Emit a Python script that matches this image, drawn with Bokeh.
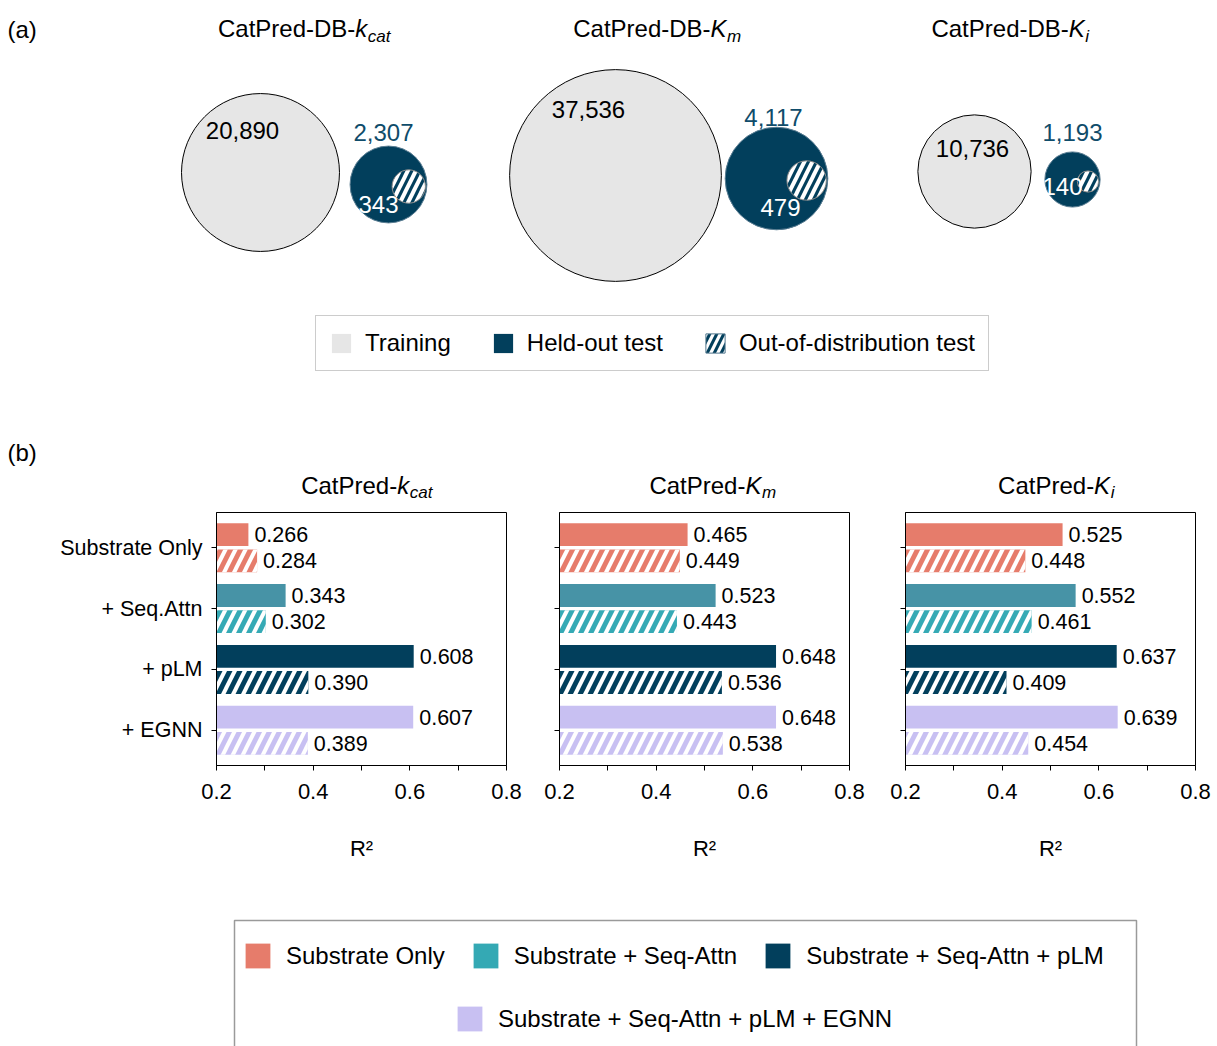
import math
from bokeh.plotting import figure
from bokeh.layouts import column, row
from bokeh.models import ColumnDataSource, Range1d, FixedTicker, Legend, LegendItem
from bokeh.core.properties import value
from bokeh.embed import file_html
from bokeh.resources import INLINE

# ---------------- data ----------------
db_names = ["kcat", "Km", "Ki"]
train_counts = [20890, 37536, 10736]
heldout_counts = [2307, 4117, 1193]
ood_counts = [343, 479, 140]

models = ["Substrate Only", "+ Seq.Attn", "+ pLM", "+ EGNN"]
model_legend = ["Substrate Only", "Substrate + Seq-Attn",
                "Substrate + Seq-Attn + pLM", "Substrate + Seq-Attn + pLM + EGNN"]
kcat_heldout = [0.266, 0.343, 0.608, 0.607]
kcat_ood = [0.284, 0.302, 0.390, 0.389]
km_heldout = [0.465, 0.523, 0.648, 0.648]
km_ood = [0.449, 0.443, 0.536, 0.538]
ki_heldout = [0.525, 0.552, 0.637, 0.639]
ki_ood = [0.448, 0.461, 0.409, 0.454]
x_major_ticks = [0.2, 0.4, 0.6, 0.8]
x_minor_ticks = [0.3, 0.5, 0.7]

# ---------------- styles ----------------
FONT = "Liberation Sans"
TRAIN_FILL = "#E6E6E6"
NAVY = "#023F5C"
HELD_LABEL = "#0F4C6A"
solid_colors = ["#E67C6B", "#4793A6", "#023F5C", "#C8C0F2"]
hatch_colors = ["#E67C6B", "#35AAB5", "#023F5C", "#C8C0F2"]
legend_colors = ["#E67C6B", "#34A9B4", "#023F5C", "#C8C0F2"]
HATCH = dict(hatch_pattern="/", hatch_color="white", hatch_alpha=1.0)

# Arial/Liberation Sans advance widths (per 1000 em) for composing titles
ADV = {'C': 722, 'a': 556, 't': 278, 'P': 667, 'r': 333, 'e': 556, 'd': 556, '-': 333,
       'D': 722, 'B': 667, 'k': 500, 'K': 667, 'm': 833, 'i': 222, 'c': 500}


def tw(s, size):
    return sum(ADV.get(ch, 556) for ch in s) * size / 1000.0


def mid(baseline, size):
    return baseline - 0.3465 * size


def draw_title(p, cx, base, main, sym, sub, f=24, fs=17, drop=5):
    w0, w1, w2 = tw(main, f), tw(sym, f), tw(sub, fs)
    x0 = cx - (w0 + w1 + w2) / 2.0
    common = dict(text_font=value(FONT), text_baseline="middle", text_align="left",
                  text_color="black")
    p.text(x=[x0], y=[mid(base, f)], text=[main], text_font_size=f"{f}px", **common)
    p.text(x=[x0 + w0], y=[mid(base, f)], text=[sym], text_font_size=f"{f}px",
           text_font_style="italic", **common)
    p.text(x=[x0 + w0 + w1 + 0.5], y=[mid(base + drop, fs)], text=[sub],
           text_font_size=f"{fs}px", text_font_style="italic", **common)


W = 1217
# ---------------- top panel (a) ----------------
TOP_H = 508
top = figure(width=W, height=TOP_H, x_range=Range1d(0, W), y_range=Range1d(TOP_H, 0),
             x_axis_type=None, y_axis_type=None, output_backend="svg", toolbar_location=None,
             min_border=0, outline_line_color=None)
top.grid.visible = False

# layout (positions) of the three bubble groups
train_cx = [260, 615, 974]
train_cy = [172, 175, 171]
held_cx = [388, 776, 1072]
held_cy = [184, 178, 179]
train_lbl_xy = [(242, 130), (588, 109), (972, 148)]
held_lbl_xy = [(383, 132), (773, 117), (1072, 132)]
ood_lbl_xy = [(378, 204), (780, 207), (1062, 186)]
K_TRAIN, K_HELD, K_OOD = 0.5465, 0.80, 0.90

r_train = [K_TRAIN * math.sqrt(c) for c in train_counts]
r_held = [K_HELD * math.sqrt(c) for c in heldout_counts]
r_ood = [K_OOD * math.sqrt(c) for c in ood_counts]
ood_cx = [hx + rh - ro - 1.5 for hx, rh, ro in zip(held_cx, r_held, r_ood)]
ood_cy = [hy + 2 for hy in held_cy]

top.circle(x=train_cx, y=train_cy, radius=r_train, fill_color=TRAIN_FILL,
           line_color="black", line_width=1)
top.circle(x=held_cx, y=held_cy, radius=r_held, fill_color=NAVY,
           line_color="#5a7d92", line_width=1)
top.circle(x=ood_cx, y=ood_cy, radius=r_ood, fill_color=NAVY, line_color="#8c8c8c",
           line_width=1, hatch_scale=16, hatch_weight=4, **HATCH)

txt = dict(text_font=value(FONT), text_font_size="24px", text_align="center",
           text_baseline="middle")
top.text(x=[p[0] for p in train_lbl_xy], y=[p[1] for p in train_lbl_xy],
         text=[f"{c:,}" for c in train_counts], text_color="black", **txt)
top.text(x=[p[0] for p in held_lbl_xy], y=[p[1] for p in held_lbl_xy],
         text=[f"{c:,}" for c in heldout_counts], text_color=HELD_LABEL, **txt)
top.text(x=[p[0] for p in ood_lbl_xy], y=[p[1] for p in ood_lbl_xy],
         text=[f"{c:,}" for c in ood_counts], text_color="white", **txt)

# panel labels and titles
top.text(x=[7, 7], y=[mid(37, 24), mid(460, 24)], text=["(a)", "(b)"], text_font=value(FONT),
         text_font_size="24px", text_baseline="middle", text_align="left",
         text_color="black")
top_title_parts = [("CatPred-DB-", "k", "cat"), ("CatPred-DB-", "K", "m"), ("CatPred-DB-", "K", "i")]
for cx, parts in zip([303.5, 656.5, 1009.5], top_title_parts):
    draw_title(top, cx, 36.7, *parts)
bar_title_parts = [("CatPred-", "k", "cat"), ("CatPred-", "K", "m"), ("CatPred-", "K", "i")]
for cx, parts in zip([366, 712, 1055.5], bar_title_parts):
    draw_title(top, cx, 493.3, *parts)

# legend of panel (a): one off-canvas swatch per entry
OFF = dict(left=[-60], right=[-50], top=[-60], bottom=[-50])
lg_train = top.quad(fill_color=TRAIN_FILL, line_color=None, **OFF)
lg_held = top.quad(fill_color=NAVY, line_color=None, **OFF)
lg_ood = top.quad(fill_color=NAVY, line_color="#5a7d92", line_width=1,
                  hatch_scale=14, hatch_weight=3.2, **HATCH, **OFF)
leg_a = Legend(items=[LegendItem(label="Training", renderers=[lg_train]),
                      LegendItem(label="Held-out test", renderers=[lg_held]),
                      LegendItem(label="Out-of-distribution test", renderers=[lg_ood])],
               orientation="horizontal", location=(315, TOP_H - 371),
               label_text_font=FONT, label_text_font_size="24px", label_text_color="black",
               glyph_width=24, glyph_height=24, label_standoff=12, spacing=40, padding=13,
               border_line_color="#9a9a9a", border_line_width=1.5,
               background_fill_color="white", background_fill_alpha=1)
top.add_layout(leg_a, "center")


# ---------------- bar panels (b) ----------------
def bar_panel(held, ood, show_labels, bl, br):
    p = figure(frame_width=290, frame_height=253, x_range=Range1d(0.2, 0.8),
               y_range=Range1d(-0.58, 3.58), min_border_left=bl, min_border_right=br,
               min_border_top=4, min_border_bottom=115, output_backend="svg",
               toolbar_location=None, outline_line_color="black", outline_line_width=1,
               outline_line_alpha=1)
    p.grid.visible = False
    pos = [len(models) - 1 - i for i in range(len(models))]
    src_h = ColumnDataSource(dict(y=[q + 0.215 for q in pos], v=held, c=solid_colors,
                                  t=[f"{v:.3f}" for v in held]))
    src_o = ColumnDataSource(dict(y=[q - 0.215 for q in pos], v=ood, c=hatch_colors,
                                  t=[f"{v:.3f}" for v in ood]))
    p.hbar(y="y", left=0.2, right="v", height=0.375, fill_color="c", line_color=None,
           source=src_h)
    p.hbar(y="y", left=0.2, right="v", height=0.375, fill_color="c", line_color=None,
           hatch_scale=20, hatch_weight=4, source=src_o, **HATCH)
    for s in (src_h, src_o):
        p.text(x="v", y="y", text="t", x_offset=6, text_baseline="middle", text_align="left",
               text_font=value(FONT), text_font_size="21.5px", text_color="black", source=s)

    xa = p.xaxis[0]
    xa.ticker = FixedTicker(ticks=x_major_ticks, minor_ticks=x_minor_ticks)
    xa.major_label_text_font = FONT
    xa.major_label_text_font_size = "22px"
    xa.major_label_text_color = "black"
    xa.major_label_standoff = 13
    xa.major_tick_out = 5
    xa.major_tick_in = 0
    xa.minor_tick_out = 5
    xa.minor_tick_in = 0
    xa.major_tick_line_color = "black"
    xa.minor_tick_line_color = "black"
    xa.axis_line_color = "black"
    xa.axis_label = "R²"
    xa.axis_label_text_font = FONT
    xa.axis_label_text_font_size = "22px"
    xa.axis_label_text_font_style = "normal"
    xa.axis_label_text_color = "black"
    xa.axis_label_standoff = 34

    ya = p.yaxis[0]
    ya.ticker = FixedTicker(ticks=pos)
    if show_labels:
        ya.major_label_overrides = {float(q): m for q, m in zip(pos, models)}
        ya.major_label_text_font = FONT
        ya.major_label_text_font_size = "21.5px"
        ya.major_label_text_color = "black"
    else:
        ya.major_label_overrides = {float(q): "" for q in pos}
        ya.major_label_text_color = None
    ya.major_label_standoff = 9
    ya.major_tick_out = 5
    ya.major_tick_in = 0
    ya.minor_tick_line_color = None
    ya.major_tick_line_color = "black"
    ya.axis_line_color = "black"
    return p


b1 = bar_panel(kcat_heldout, kcat_ood, True, 216, 26)
b2 = bar_panel(km_heldout, km_ood, False, 27, 28)
b3 = bar_panel(ki_heldout, ki_ood, False, 28, 22)

# ---------------- bottom legend ----------------
BOT_TOP = TOP_H + 372
BOT_H = 1046 - BOT_TOP
bot = figure(width=W, height=BOT_H, x_range=Range1d(0, W),
             y_range=Range1d(BOT_TOP + BOT_H, BOT_TOP), x_axis_type=None, y_axis_type=None,
             output_backend="svg", toolbar_location=None, min_border=0, outline_line_color=None)
bot.grid.visible = False
bot.quad(left=[234], right=[1136], top=[920], bottom=[1120], fill_color=None,
         line_color="#9a9a9a", line_width=1.5)
dummies = [bot.quad(fill_color=c, line_color=None, **OFF) for c in legend_colors]
leg_common = dict(orientation="horizontal", label_text_font=FONT, label_text_font_size="24px",
                  label_text_color="black", glyph_width=31, glyph_height=31, label_standoff=13,
                  spacing=25, padding=0, border_line_alpha=0, background_fill_alpha=0)
leg1 = Legend(items=[LegendItem(label=model_legend[i], renderers=[dummies[i]]) for i in range(3)],
              location=(242, 1046 - 971), **leg_common)
leg2 = Legend(items=[LegendItem(label=model_legend[3], renderers=[dummies[3]])],
              location=(454, 1046 - 1034), **leg_common)
bot.add_layout(leg1, "center")
bot.add_layout(leg2, "center")

layout = column(top, row(b1, b2, b3), bot)
open("out.html", "w").write(file_html(layout, INLINE))
